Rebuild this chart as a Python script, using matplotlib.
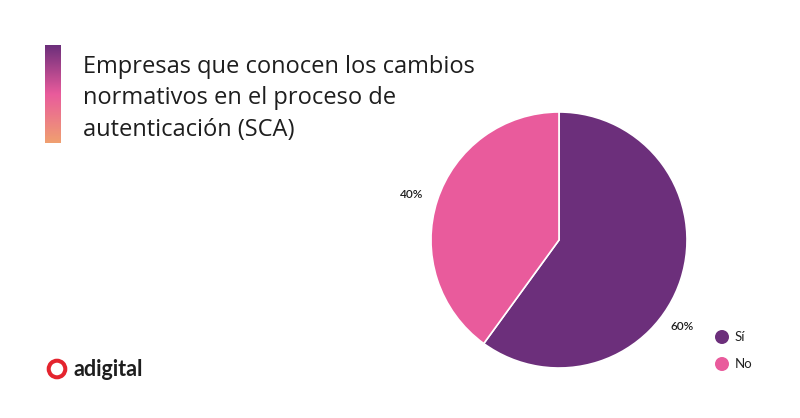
import numpy as np
import matplotlib
matplotlib.use("Agg")
import matplotlib.pyplot as plt
from matplotlib.colors import LinearSegmentedColormap
from matplotlib.patches import Circle

categories = ["Sí", "No"]
values = [60, 40]
pct_labels = ["60%", "40%"]
colors = ["#6c2f7b", "#e95b9c"]
title_lines = ["Empresas que conocen los cambios",
               "normativos en el proceso de",
               "autenticación (SCA)"]

W, H = 800, 418
fig = plt.figure(figsize=(W / 100, H / 100), dpi=100)
fig.patch.set_facecolor("white")

def fx(x):
    return x / W

def fy(y):
    return 1 - y / H

# Overlay axes in pixel coordinates (for round circles)
pax = fig.add_axes([0, 0, 1, 1])
pax.set_xlim(0, W)
pax.set_ylim(H, 0)
pax.axis("off")

# Pie
cx, cy, r = 559, 240, 128
ax = fig.add_axes([fx(cx - r), fy(cy + r), 2 * r / W, 2 * r / H])
ax.pie(values, colors=colors, startangle=90, counterclock=False,
       wedgeprops=dict(edgecolor="white", linewidth=1.2))
ax.set_xlim(-1, 1)
ax.set_ylim(-1, 1)
ax.set_aspect("auto")
ax.axis("off")

# Percent labels
fig.text(fx(682), fy(326), pct_labels[0], fontsize=8.5, color="#1e1e1e",
         ha="center", va="center", family="Lato", fontweight="semibold")
fig.text(fx(412), fy(195), pct_labels[1], fontsize=8.5, color="#1e1e1e",
         ha="center", va="center", family="Lato", fontweight="semibold")

# Legend
for i, (cat, col) in enumerate(zip(categories, colors)):
    yy = 337 + i * 27
    pax.add_patch(Circle((722, yy), 7, facecolor=col, edgecolor="none"))
    fig.text(fx(735), fy(yy), cat, fontsize=9.5, color="#222222",
             ha="left", va="center", family="Lato")

# Title gradient bar
bax = fig.add_axes([fx(45), fy(143), 16 / W, 98 / H])
cmap = LinearSegmentedColormap.from_list("g", ["#6c2f7b", "#e95b9c", "#f0a070"])
grad = np.linspace(0, 1, 256).reshape(-1, 1)
bax.imshow(grad, aspect="auto", cmap=cmap)
bax.axis("off")

for i, line in enumerate(title_lines):
    fig.text(fx(83), fy(73 + i * 31.5), line, fontsize=17, color="#1e1e1e",
             ha="left", va="baseline", family="Open Sans")

# Logo
pax.add_patch(Circle((57, 369), 8.3, facecolor="none", edgecolor="#e4242e", linewidth=2.9))
fig.text(fx(73), fy(369), "adigital", fontsize=15.5, fontweight="bold", color="#1e1e1e",
         ha="left", va="center", family="Lato")

fig.savefig("out.png", dpi=100, facecolor="white")
